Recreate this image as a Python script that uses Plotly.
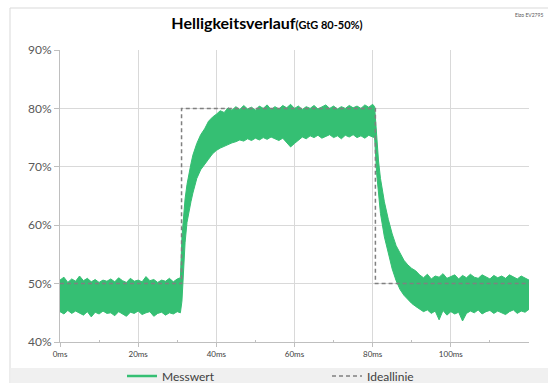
import plotly.graph_objects as go

# ---- data ----
# envelope of the measured brightness (Messwert), in % of full scale
time_ms = (
    list(range(0, 31))
    + [30.8, 31.2, 31.6, 32.0, 32.5, 33.0, 33.5, 34.0, 35.0, 36.0, 37.0, 38.0, 39.0]
    + list(range(40, 81))
    + [80.5, 81.0, 81.5, 82.0, 83.0, 84.0, 85.0, 86.0, 87.0, 88.0, 89.0, 90.0, 91.0]
    + list(range(92, 121))
)
upper = (
    [50.6, 51.1, 50.2, 50.8, 50.4, 51.3, 50.5, 50.9, 50.3, 50.7, 50.2, 50.6, 50.4, 50.8, 50.3, 51.0,
     50.5, 50.2, 50.9, 50.4, 50.6, 50.3, 51.2, 50.5, 50.7, 50.2, 50.6, 50.4, 50.9, 50.3, 50.8]
    + [51.0, 58.0, 62.0, 64.5, 67.0, 69.0, 70.5, 72.0, 74.0, 75.5, 76.5, 77.8, 78.5]
    + [79.0, 79.6, 79.3, 80.1, 79.7, 80.3, 79.8, 80.5, 79.9, 80.2, 79.7, 80.4, 80.0, 80.6, 79.8, 80.3,
       79.9, 80.5, 80.1, 80.7, 80.0, 80.4, 79.8, 80.3, 80.0, 80.5, 79.9, 80.2, 80.6, 80.0, 80.4, 79.9,
       80.3, 80.0, 80.5, 80.1, 80.4, 80.0, 80.6, 80.2, 80.7]
    + [80.3, 75.0, 71.0, 68.0, 64.0, 61.0, 58.5, 56.5, 55.2, 54.0, 53.2, 52.6, 52.2]
    + [51.5, 51.0, 51.6, 50.8, 51.3, 51.1, 51.7, 50.9, 51.2, 51.5, 50.8, 51.4, 51.0, 51.6, 51.1, 50.9,
       51.5, 51.2, 50.8, 51.4, 51.0, 51.3, 50.9, 51.5, 51.1, 50.8, 51.3, 51.0, 50.6]
)
lower = (
    [45.2, 44.8, 45.4, 44.9, 45.3, 45.0, 44.6, 45.2, 44.3, 45.1, 44.8, 45.3, 44.9, 45.0, 44.5, 45.2,
     44.8, 44.4, 45.1, 44.9, 45.3, 44.7, 45.0, 45.2, 44.4, 44.9, 45.1, 44.6, 45.0, 44.8, 45.2]
    + [45.0, 47.0, 52.0, 57.0, 60.5, 62.5, 64.0, 65.5, 68.0, 69.5, 70.5, 71.3, 72.2]
    + [72.8, 73.2, 73.5, 73.9, 74.1, 74.3, 74.6, 74.4, 74.8, 74.5, 74.9, 74.6, 75.0, 74.7, 75.1, 74.8,
       74.5, 74.9, 74.2, 73.4, 74.0, 74.6, 75.1, 74.8, 75.3, 75.0, 75.4, 74.9, 75.2, 75.5, 75.0, 75.3,
       74.8, 75.4, 75.1, 75.5, 75.0, 75.3, 74.9, 75.4, 75.1]
    + [75.0, 69.0, 65.0, 62.0, 58.0, 55.0, 52.5, 50.5, 49.0, 48.0, 47.2, 46.6, 46.1]
    + [45.6, 45.2, 45.5, 44.9, 45.3, 43.8, 45.4, 44.6, 45.2, 44.8, 45.1, 43.6, 44.9, 45.3, 45.0, 45.5,
       44.8, 45.2, 45.4, 44.9, 45.3, 45.0, 44.7, 45.2, 45.5, 44.9, 45.3, 45.1, 45.6]
)
# ideal step response (Ideallinie)
ideal_t = [0, 31.1, 31.1, 80.7, 80.7, 120]
ideal_v = [50, 50, 80, 80, 50, 50]

x_ticks = [0, 20, 40, 60, 80, 100]
x_tick_text = ["0ms", "20ms", "40ms", "60ms", "80ms", "100ms"]
y_ticks = [40, 50, 60, 70, 80, 90]
y_tick_text = ["40%", "50%", "60%", "70%", "80%", "90%"]

GREEN = "#35bf73"
FONT = "Lato"

fig = go.Figure()
fig.add_trace(go.Scatter(x=time_ms, y=lower, mode="lines", line=dict(color=GREEN, width=1),
                         showlegend=False, hoverinfo="skip"))
fig.add_trace(go.Scatter(x=time_ms, y=upper, mode="lines", line=dict(color=GREEN, width=1),
                         fill="tonexty", fillcolor=GREEN, name="Messwert", showlegend=False))
# legend entry for Messwert (solid green line)
fig.add_trace(go.Scatter(x=[None], y=[None], mode="lines", line=dict(color=GREEN, width=2.5),
                         name="Messwert"))
fig.add_trace(go.Scatter(x=ideal_t, y=ideal_v, mode="lines",
                         line=dict(color="#808080", width=1.5, dash="4px,3px"),
                         name="Ideallinie"))

W, H = 548, 383
L, R, T, B = 60, 19, 50, 41
pw, ph = W - L - R, H - T - B


def px(xp):
    return (xp - L) / pw


def py(yp):
    return (H - B - yp) / ph


fig.update_layout(
    width=W, height=H,
    margin=dict(l=L, r=R, t=T, b=B, autoexpand=False),
    paper_bgcolor="white", plot_bgcolor="white",
    font=dict(family=FONT, color="#404040"),
    title=dict(
        text="<b>Helligkeitsverlauf</b><b><span style='font-size:11px'>(GtG 80-50%)</span></b>",
        x=267 / W, xanchor="center", y=1 - 23 / H, yanchor="middle",
        font=dict(family=FONT, size=16, color="#000000"),
    ),
    xaxis=dict(
        range=[0, 120], tickmode="array", tickvals=x_ticks, ticktext=x_tick_text,
        showgrid=True, gridcolor="#d9d9d9", gridwidth=1,
        showline=True, linecolor="#bfbfbf", linewidth=1,
        ticks="outside", ticklen=4, tickcolor="#bfbfbf",
        tickfont=dict(family=FONT, size=8, color="#404040"),
        minor=dict(tickvals=[10, 30, 50, 70, 90, 110], ticks="inside", ticklen=2, tickcolor="#bfbfbf"),
        zeroline=False, fixedrange=True,
    ),
    yaxis=dict(
        range=[40, 90], tickmode="array", tickvals=y_ticks, ticktext=y_tick_text,
        showgrid=True, gridcolor="#d9d9d9", gridwidth=1,
        showline=True, linecolor="#bfbfbf", linewidth=1,
        ticks="outside", ticklen=5, tickcolor="#bfbfbf",
        tickfont=dict(family=FONT, size=12, color="#595959"),
        zeroline=False, fixedrange=True,
    ),
    legend=dict(
        orientation="h", xref="container", yref="container",
        x=122 / W, xanchor="left", y=1 - 376 / H, yanchor="middle",
        bgcolor="rgba(0,0,0,0)", font=dict(family=FONT, size=12, color="#404040"),
        itemwidth=30, entrywidth=160, entrywidthmode="pixels",
        traceorder="normal",
    ),
    showlegend=True,
    shapes=[
        # chart frame
        dict(type="rect", xref="paper", yref="paper", x0=px(10), x1=px(560), y0=py(395), y1=py(8),
             line=dict(color="#d9d9d9", width=1), fillcolor="rgba(0,0,0,0)", layer="below"),
        # legend band
        dict(type="rect", xref="paper", yref="paper", x0=px(10.5), x1=px(560), y0=py(395), y1=py(368),
             line=dict(width=0), fillcolor="#f0f0f0", layer="below"),
    ],
    annotations=[
        dict(text="Eizo EV2795", xref="paper", yref="paper", x=px(545), y=py(15),
             xanchor="right", yanchor="middle", showarrow=False,
             font=dict(family=FONT, size=5, color="#595959")),
    ],
)

fig.write_html(
    "out.html",
    config={"displayModeBar": False},
    post_script="document.body.style.margin='0';document.body.style.overflow='hidden';",
)
